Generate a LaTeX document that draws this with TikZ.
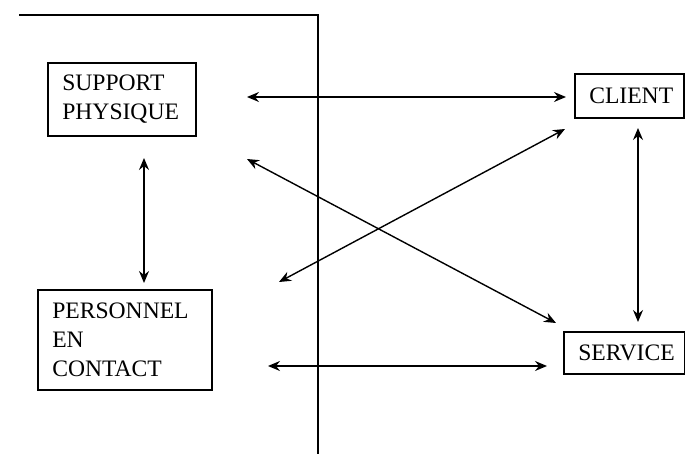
\documentclass[tikz,border=0pt]{standalone}
\usepackage{fontspec}
\setmainfont{Liberation Serif}
\usetikzlibrary{arrows.meta}
\begin{document}
\begin{tikzpicture}[x=0.5pt,y=-0.5pt,
  boxnode/.style={draw, line width=0.9pt, anchor=north west, align=left,
    inner xsep=7.2pt, inner ysep=0pt,
    font=\fontsize{11.8}{14.5}\selectfont},
  link/.style={line width=0.7pt, {Stealth[length=6pt,width=5pt,inset=2pt]}-{Stealth[length=6pt,width=5pt,inset=2pt]}},
  frame/.style={line width=0.8pt}]
\useasboundingbox (0,0) rectangle (685,454);
% boundary
\coordinate (f1) at (19,15);
\coordinate (f2) at (318,15);
\coordinate (f3) at (318,454);
\draw[frame] (f1) -- (f2) -- (f3);
% boxes
\node[boxnode, minimum width=74pt, minimum height=36.5pt, text width=59.6pt] (sp) at (47,62) {SUPPORT\\PHYSIQUE};
\node[boxnode, minimum width=87pt, minimum height=50pt, text width=72.6pt] (pc) at (37,289) {PERSONNEL\\EN\\CONTACT};
\node[boxnode, minimum width=54.5pt, minimum height=22pt, text width=40.1pt] (cl) at (574,73) {CLIENT};
\node[boxnode, minimum width=60.5pt, minimum height=21pt, text width=46.1pt] (sv) at (563,331) {SERVICE};
% arrow end points
\coordinate (a1) at (247,97);  \coordinate (a2) at (566,97);
\coordinate (b1) at (144,158); \coordinate (b2) at (144,283);
\coordinate (c1) at (638,128); \coordinate (c2) at (638,322);
\coordinate (d1) at (268,366); \coordinate (d2) at (547,366);
\coordinate (e1) at (247,159); \coordinate (e2) at (556,323);
\coordinate (g1) at (565,129); \coordinate (g2) at (279,282);
\draw[link] (a1) -- (a2);
\draw[link] (b1) -- (b2);
\draw[link] (c1) -- (c2);
\draw[link] (d1) -- (d2);
\draw[link] (e1) -- (e2);
\draw[link] (g1) -- (g2);
\end{tikzpicture}
\end{document}
